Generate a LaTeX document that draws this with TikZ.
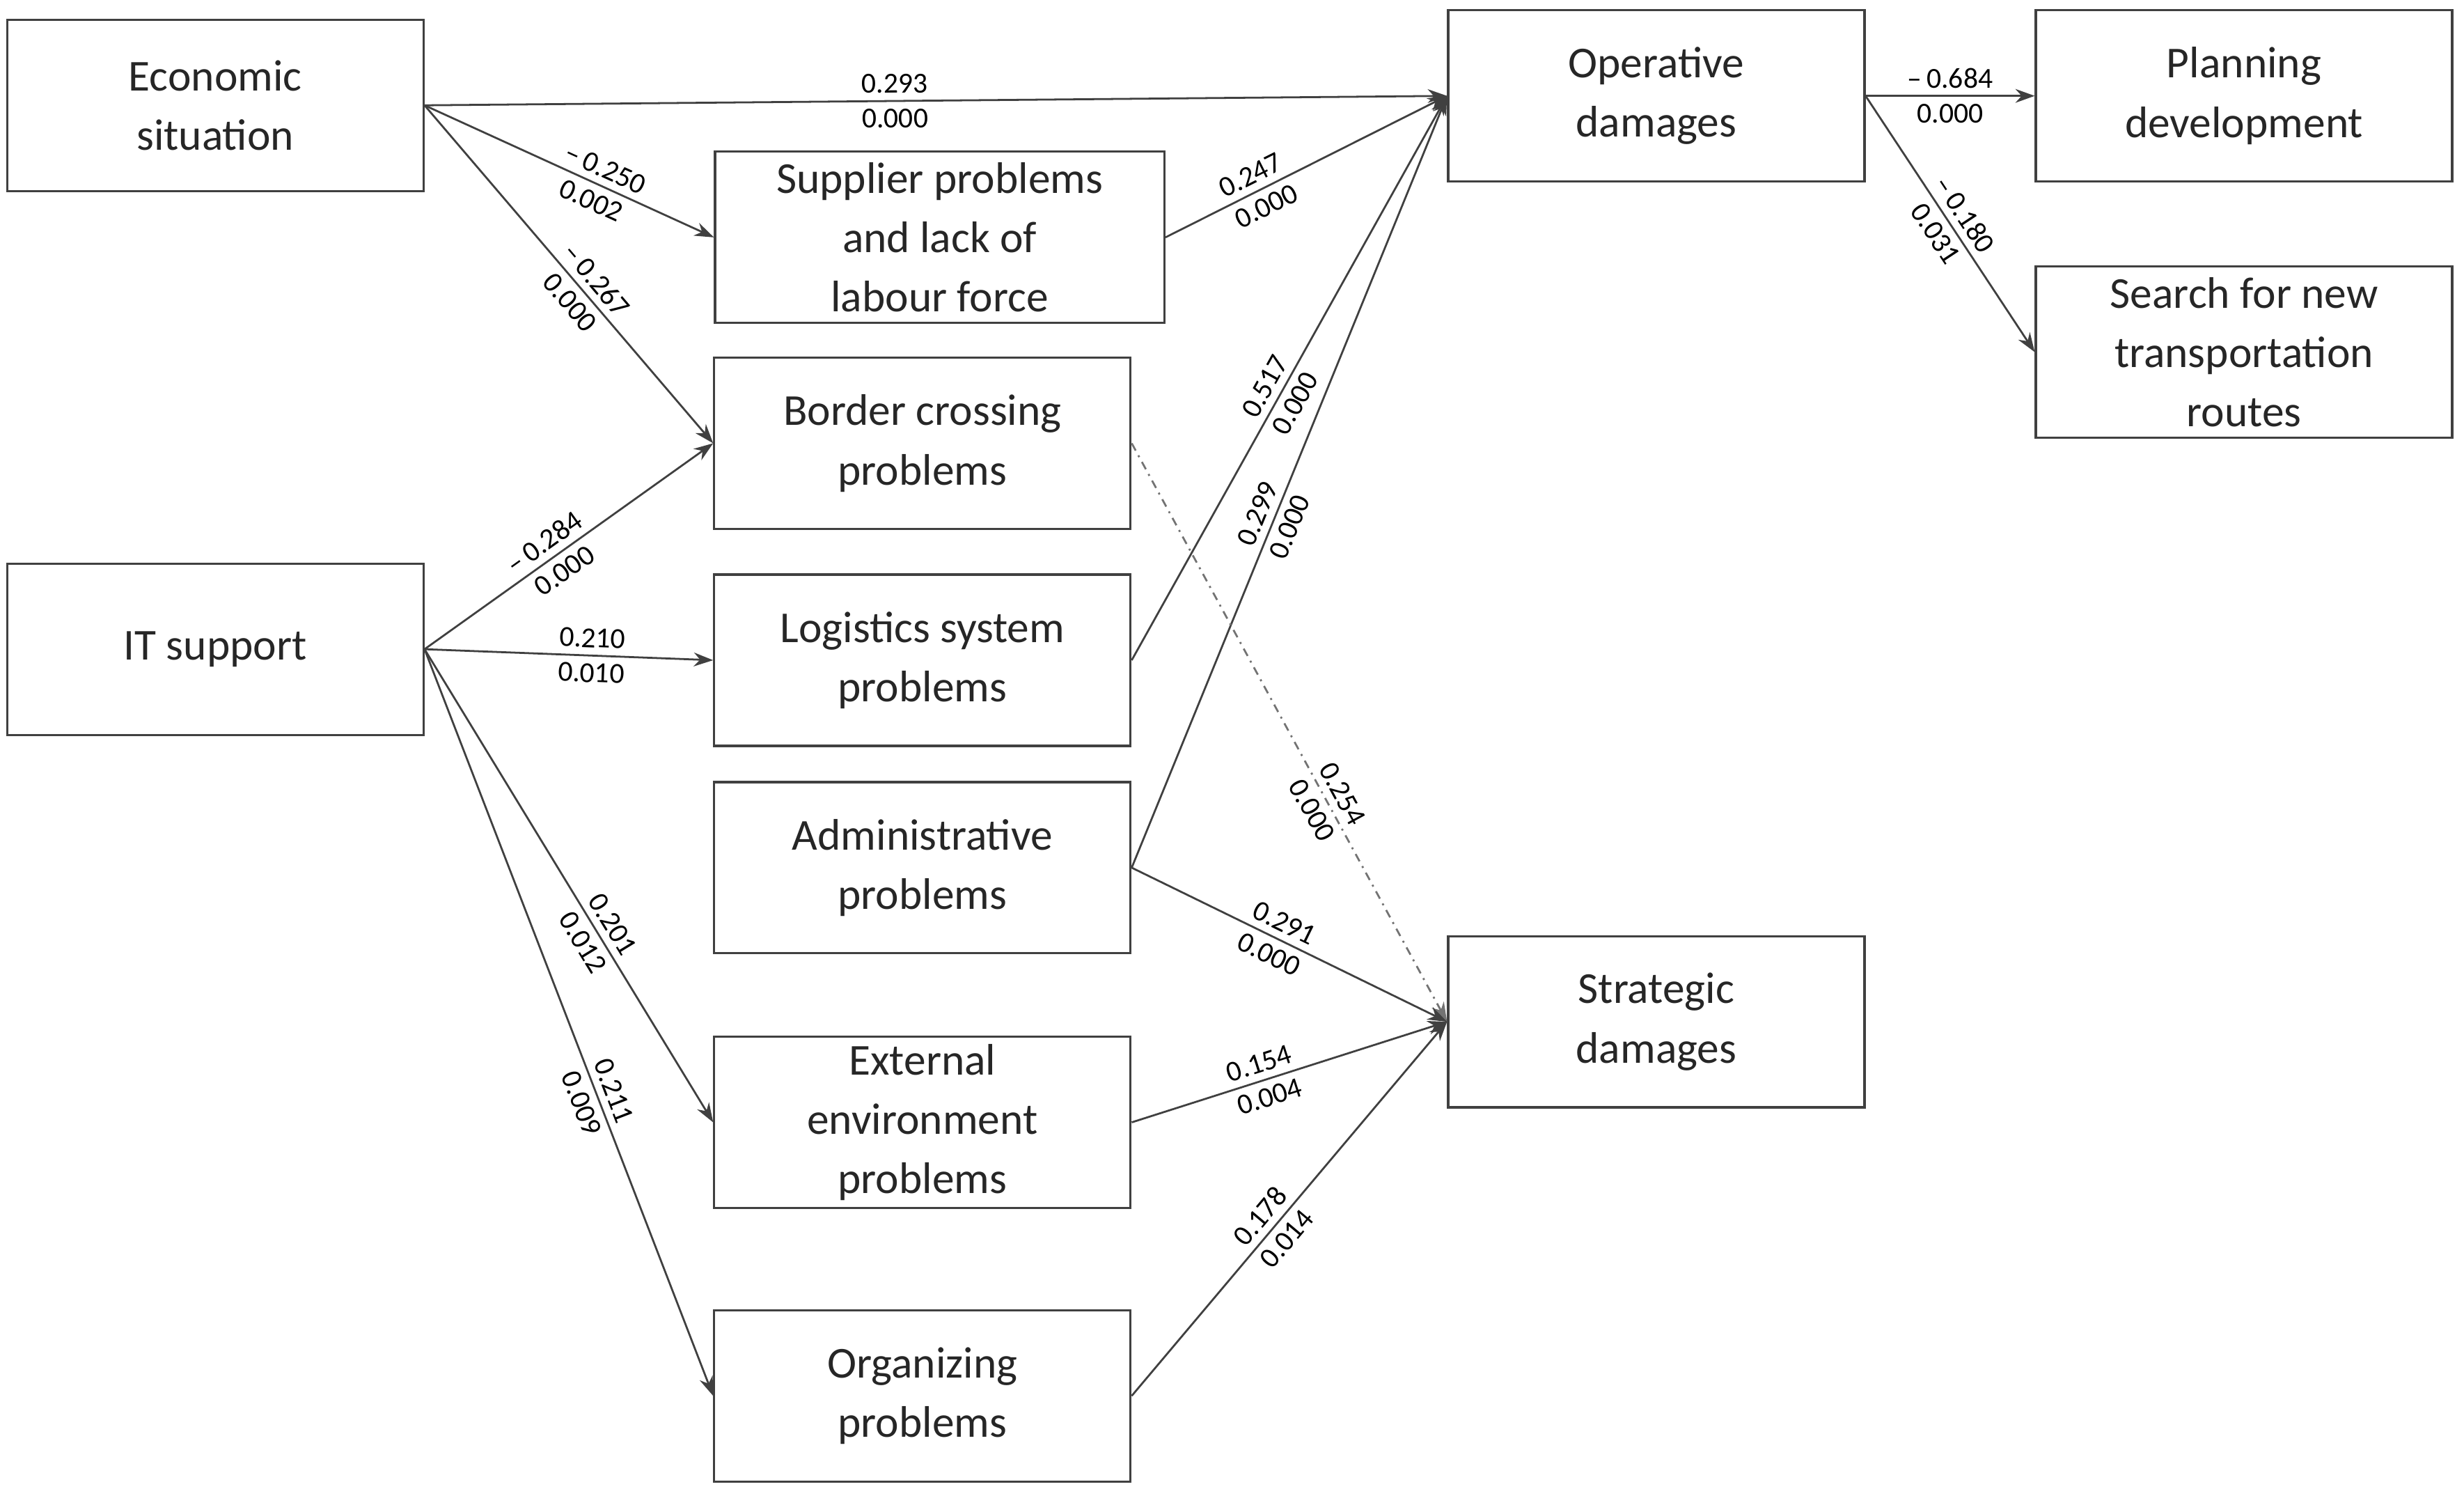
\documentclass[tikz,border=0pt]{standalone}
\usepackage{fontspec}
\setmainfont{Carlito}
\usetikzlibrary{arrows.meta}
\begin{document}
\begin{tikzpicture}[x=0.02cm,y=-0.02cm,
 box/.style={draw=black!75,line width=0.8pt,minimum width=5.3cm,minimum height=2.18cm,align=center,font=\fontsize{16}{21.5}\selectfont,text=black!85,inner sep=2pt},
 e/.style={draw=black!75,line width=0.7pt,-{Stealth[length=7pt,width=5pt]}},
 lab/.style={font=\fontsize{10.5}{12}\selectfont,sloped,inner sep=2.5pt},
 up/.style={lab,above,pos=#1},
 dn/.style={lab,below,pos=#1}]
\useasboundingbox (0,0) rectangle (1568,947);
\node[box] (eco) at (137,67) {Economic\\situation};
\node[box] (it) at (137,413) {IT support};
\node[box,minimum width=5.72cm] (sup) at (598,151) {Supplier problems\\and lack of\\labour force};
\node[box] (bor) at (587,282) {Border crossing\\problems};
\node[box] (log) at (587,420) {Logistics system\\problems};
\node[box] (adm) at (587,552) {Administrative\\problems};
\node[box] (ext) at (587,714) {External\\environment\\problems};
\node[box] (org) at (587,888) {Organizing\\problems};
\node[box] (op) at (1054,61) {Operative\\damages};
\node[box] (st) at (1054,650) {Strategic\\damages};
\node[box] (pl) at (1428,61) {Planning\\development};
\node[box] (se) at (1428,224) {Search for new\\transportation\\routes};
\draw[e] (eco.east) -- (op.west) node[up=0.46]{0.293} node[dn=0.46]{0.000};
\draw[e] (eco.east) -- (sup.west) node[up=0.6]{–\,0.250} node[dn=0.6]{0.002};
\draw[e] (eco.east) -- (bor.west) node[up=0.55]{–\,0.267} node[dn=0.55]{0.000};
\draw[e] (it.east) -- (bor.west) node[up=0.45]{–\,0.284} node[dn=0.45]{0.000};
\draw[e] (it.east) -- (log.west) node[up=0.58]{0.210} node[dn=0.58]{0.010};
\draw[e] (it.east) -- (ext.west) node[up=0.6]{0.201} node[dn=0.6]{0.012};
\draw[e] (it.east) -- (org.west) node[up=0.6]{0.211} node[dn=0.6]{0.009};
\draw[e] (sup.east) -- (op.west) node[up=0.33]{0.247} node[dn=0.33]{0.000};
\draw[e] (log.east) -- (op.west) node[up=0.47]{0.517} node[dn=0.47]{0.000};
\draw[e] (adm.east) -- (op.west) node[up=0.45]{0.299} node[dn=0.45]{0.000};
\draw[e,draw=black!55,dash dot] (bor.east) -- (st.west) node[up=0.62]{0.254} node[dn=0.62]{0.000};
\draw[e] (adm.east) -- (st.west) node[up=0.46]{0.291} node[dn=0.46]{0.000};
\draw[e] (ext.east) -- (st.west) node[up=0.42]{0.154} node[dn=0.42]{0.004};
\draw[e] (org.east) -- (st.west) node[up=0.45]{0.178} node[dn=0.45]{0.014};
\draw[e] (op.east) -- (pl.west) node[up=0.5]{–\,0.684} node[dn=0.5]{0.000};
\draw[e] (op.east) -- (se.west) node[up=0.5]{–\,0.180} node[dn=0.5]{0.031};
\end{tikzpicture}
\end{document}
